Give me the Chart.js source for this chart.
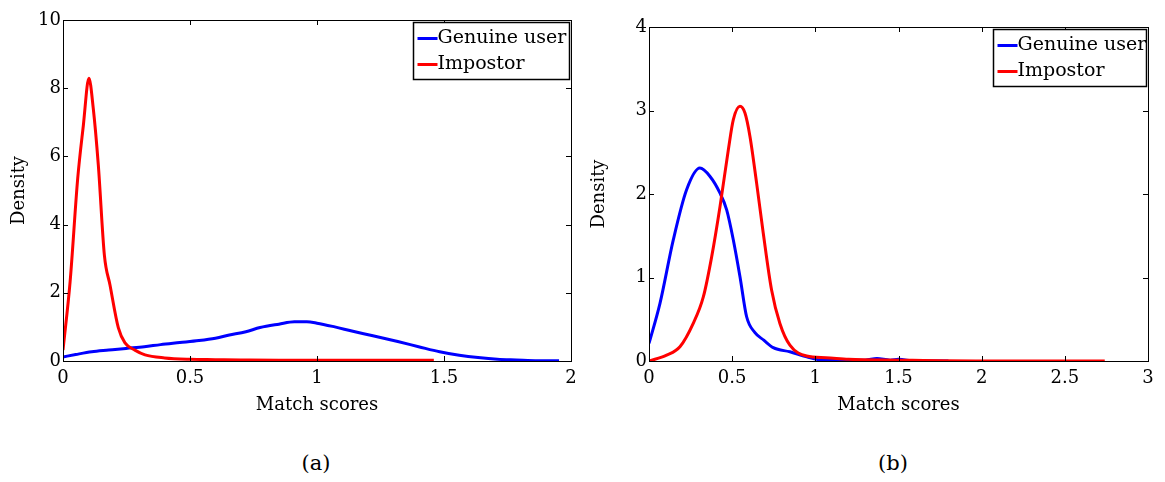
<!DOCTYPE html>
<html>
<head>
<meta charset="utf-8">
<script src="https://cdn.jsdelivr.net/npm/chart.js@4.4.1/dist/chart.umd.min.js"></script>
<style>
  body { margin: 0; background: #fff; width: 1165px; height: 482px; position: relative; overflow: hidden; font-family: "DejaVu Serif", serif; }
  .panel { position: absolute; top: 0; height: 430px; }
  #panelA { left: 0; width: 600px; }
  #panelB { left: 575px; width: 590px; }
  .caption { position: absolute; top: 451px; font-size: 21px; color: #000; transform: translateX(-50%); }
</style>
</head>
<body>
<div class="panel" id="panelA"><canvas id="chartA"></canvas></div>
<div class="panel" id="panelB"><canvas id="chartB"></canvas></div>
<div class="caption" style="left:316px">(a)</div>
<div class="caption" style="left:893px">(b)</div>

<script>
// ---- data (a) ----
const genuineAX = [0, 0.05, 0.113, 0.18, 0.248, 0.32, 0.384, 0.46, 0.535, 0.6, 0.655, 0.72, 0.776, 0.85, 0.911, 0.96, 1.0, 1.07, 1.137, 1.22, 1.318, 1.4, 1.483, 1.56, 1.634, 1.71, 1.785, 1.87, 1.953];
const genuineAY = [0.12, 0.19, 0.27, 0.32, 0.37, 0.42, 0.48, 0.54, 0.6, 0.67, 0.76, 0.86, 0.98, 1.08, 1.15, 1.15, 1.11, 1.0, 0.88, 0.74, 0.57, 0.42, 0.27, 0.17, 0.1, 0.05, 0.03, 0.01, 0.01];
const impostorAX = [0, 0.028, 0.058, 0.08, 0.102, 0.119, 0.139, 0.163, 0.185, 0.218, 0.244, 0.283, 0.323, 0.4, 0.5, 0.6, 0.7, 0.85, 1.0, 1.2, 1.46];
const impostorAY = [0.32, 2.33, 5.36, 6.9, 8.29, 7.42, 5.75, 3.1, 2.23, 0.97, 0.53, 0.32, 0.18, 0.09, 0.05, 0.04, 0.03, 0.02, 0.02, 0.02, 0.02];
const xTicksA = [0, 0.5, 1, 1.5, 2];
const yTicksA = [0, 2, 4, 6, 8, 10];

// ---- data (b) ----
const genuineBX = [0, 0.066, 0.146, 0.226, 0.306, 0.367, 0.427, 0.467, 0.507, 0.547, 0.587, 0.637, 0.69, 0.747, 0.847, 0.948, 1.048, 1.2, 1.3, 1.37, 1.45, 1.5, 1.6, 1.8];
const genuineBY = [0.21, 0.69, 1.45, 2.05, 2.31, 2.21, 2.01, 1.81, 1.45, 1.01, 0.53, 0.34, 0.25, 0.16, 0.11, 0.05, 0.01, 0.01, 0.01, 0.03, 0.01, 0.02, 0.0, 0.0];
const impostorBX = [0, 0.106, 0.186, 0.266, 0.327, 0.377, 0.427, 0.477, 0.507, 0.547, 0.577, 0.607, 0.647, 0.687, 0.737, 0.787, 0.847, 0.948, 1.064, 1.2, 1.5, 2.0, 2.74];
const impostorBY = [0, 0.07, 0.17, 0.45, 0.77, 1.25, 1.85, 2.53, 2.89, 3.05, 2.97, 2.69, 2.13, 1.53, 0.85, 0.45, 0.19, 0.06, 0.04, 0.02, 0.01, 0.0, 0.0];
const xTicksB = [0, 0.5, 1, 1.5, 2, 2.5, 3];
const yTicksB = [0, 1, 2, 3, 4];

const FONT = "'DejaVu Serif', serif";
const toPoints = (xs, ys) => xs.map((x, i) => ({ x: x, y: ys[i] }));

// box, inward ticks and legend drawn MATLAB style
const matlabBox = {
  id: "matlabBox",
  afterDraw(chart, args, opts) {
    const { ctx, chartArea: a, scales } = chart;
    const len = 5;
    ctx.save();
    ctx.strokeStyle = "#000";
    ctx.lineWidth = 1;
    ctx.strokeRect(Math.round(a.left) + 0.5, Math.round(a.top) + 0.5, Math.round(a.width), Math.round(a.height));
    ctx.beginPath();
    scales.x.ticks.forEach((t) => {
      const px = Math.round(scales.x.getPixelForValue(t.value)) + 0.5;
      ctx.moveTo(px, a.bottom); ctx.lineTo(px, a.bottom - len);
      ctx.moveTo(px, a.top); ctx.lineTo(px, a.top + len);
    });
    scales.y.ticks.forEach((t) => {
      const py = Math.round(scales.y.getPixelForValue(t.value)) + 0.5;
      ctx.moveTo(a.left, py); ctx.lineTo(a.left + len, py);
      ctx.moveTo(a.right, py); ctx.lineTo(a.right - len, py);
    });
    ctx.stroke();

    // legend
    const w = opts.width, h = opts.height;
    const lx = Math.round(a.right - 2 - w) + 0.5, ly = Math.round(a.top + 2) + 0.5;
    ctx.fillStyle = "#fff";
    ctx.fillRect(lx, ly, w, h);
    ctx.lineWidth = 1.5;
    ctx.strokeRect(lx, ly, w, h);
    ctx.font = "19px " + FONT;
    ctx.textBaseline = "middle";
    chart.data.datasets.forEach((ds, i) => {
      const ry = ly + 16 + i * 26;
      ctx.strokeStyle = ds.borderColor;
      ctx.lineWidth = 3;
      ctx.beginPath();
      ctx.moveTo(lx + 4, ry); ctx.lineTo(lx + 24, ry);
      ctx.stroke();
      ctx.fillStyle = "#000";
      ctx.fillText(ds.label, lx + 24, ry);
    });
    ctx.restore();
  }
};

function makeChart(id, gx, gy, ix, iy, xTicks, yTicks, pad) {
  return new Chart(document.getElementById(id), {
    type: "line",
    data: {
      datasets: [
        { label: "Genuine user", data: toPoints(gx, gy), borderColor: "#0000ff", borderWidth: 3, pointRadius: 0, cubicInterpolationMode: "monotone", order: 2 },
        { label: "Impostor", data: toPoints(ix, iy), borderColor: "#ff0000", borderWidth: 3, pointRadius: 0, cubicInterpolationMode: "monotone", order: 1 }
      ]
    },
    options: {
      responsive: true,
      maintainAspectRatio: false,
      animation: false,
      layout: { padding: { left: 0, right: pad.right, top: pad.top, bottom: 14 } },
      plugins: { legend: { display: false }, tooltip: { enabled: false }, matlabBox: { width: pad.legW, height: 57 } },
      scales: {
        x: {
          type: "linear",
          min: xTicks[0], max: xTicks[xTicks.length - 1],
          afterBuildTicks: (s) => { s.ticks = xTicks.map((v) => ({ value: v })); },
          afterFit: (s) => { s.height = 55; },
          grid: { display: false, drawTicks: false },
          border: { display: false },
          ticks: { padding: 7, color: "#000", font: { family: FONT, size: 18 }, maxRotation: 0, callback: (v) => String(v) },
          title: { display: true, text: "Match scores", color: "#000", font: { family: FONT, size: 18 }, padding: { top: pad.titleX, bottom: 0 } }
        },
        y: {
          min: yTicks[0], max: yTicks[yTicks.length - 1],
          afterBuildTicks: (s) => { s.ticks = yTicks.map((v) => ({ value: v })); },
          afterFit: (s) => { s.width = pad.left; },
          grid: { display: false, drawTicks: false },
          border: { display: false },
          ticks: { padding: 2, color: "#000", font: { family: FONT, size: 18 }, callback: (v) => String(v) },
          title: { display: true, text: "Density", color: "#000", font: { family: FONT, size: 18 }, padding: { top: pad.titleY, bottom: 0 } }
        }
      }
    },
    plugins: [matlabBox]
  });
}

makeChart("chartA", genuineAX, genuineAY, impostorAX, impostorAY, xTicksA, yTicksA, { left: 63, right: 29, top: 20, titleY: 9, titleX: 6, legW: 156 });
makeChart("chartB", genuineBX, genuineBY, impostorBX, impostorBY, xTicksB, yTicksB, { left: 74, right: 17, top: 27, titleY: 14, titleX: 8, legW: 153 });
</script>
</body>
</html>
